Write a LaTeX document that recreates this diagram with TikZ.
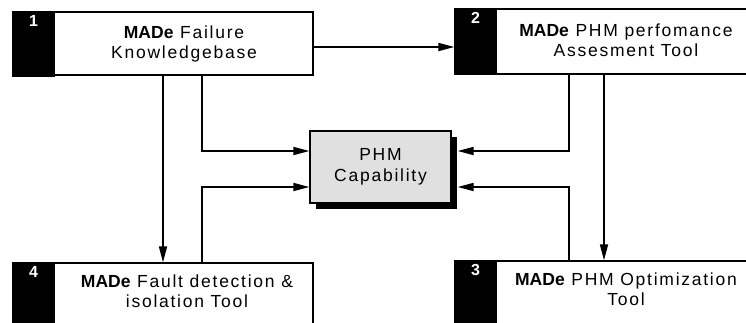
\documentclass[tikz,border=0pt]{standalone}
\usepackage{fontspec}
\setmainfont{Liberation Sans}[LetterSpace=10]
\usetikzlibrary{arrows.meta,shadows}
\newcommand{\brand}{{\addfontfeature{LetterSpace=0}\bfseries MADe}}

\begin{document}
\begin{tikzpicture}[x=1pt,y=-1pt,
  every node/.style={inner sep=0pt},
  toolbox/.style={draw=black,line width=1.3pt,fill=white,rectangle},
  tabbox/.style={draw=black,line width=1.3pt,fill=black,rectangle,anchor=north west,minimum width=41pt},
  toolname/.style={align=center,font=\fontsize{17.5}{20}\selectfont},
  tabnum/.style={text=white,anchor=north,font=\fontsize{16}{16}\selectfont\bfseries},
  phmbox/.style={draw=black,line width=1.3pt,fill=black!12,rectangle,align=center,
    font=\fontsize{17.5}{21}\selectfont,
    drop shadow={shadow xshift=6pt,shadow yshift=-6pt,fill=black,opacity=1}},
  flow/.style={line width=1.7pt,-{Triangle[length=16pt,width=8pt]}}]
\useasboundingbox (0,0) rectangle (746,322);
\clip (0,0) rectangle (746,322);
% tool boxes
\node[toolbox,minimum width=300pt,minimum height=63pt] (kb) at (163,43.5) {};
\node[tabbox,minimum height=64pt] (kbtab) at (kb.north west) {};
\node[tabnum] (kbnum) at ([yshift=-4pt]kbtab.north) {1};
\node[toolname] (kbtext) at (184,44) {\brand{} Failure\\Knowledgebase};
\node[toolbox,minimum width=295pt,minimum height=65pt] (perf) at (602.5,41.5) {};
\node[tabbox,minimum height=65pt] (perftab) at (perf.north west) {};
\node[tabnum] (perfnum) at ([yshift=-4pt]perftab.north) {2};
\node[toolname] (perftext) at (626,40) {\brand{} PHM perfomance\\Assesment Tool};
\node[toolbox,minimum width=295pt,minimum height=65pt] (opt) at (602.5,293.5) {};
\node[tabbox,minimum height=65pt] (opttab) at (opt.north west) {};
\node[tabnum] (optnum) at ([yshift=-4pt]opttab.north) {3};
\node[toolname] (opttext) at (626,289.5) {\brand{} PHM Optimization\\Tool};
\node[toolbox,minimum width=300pt,minimum height=65pt] (fd) at (163,295.5) {};
\node[tabbox,minimum height=65pt] (fdtab) at (fd.north west) {};
\node[tabnum] (fdnum) at ([yshift=-4pt]fdtab.north) {4};
\node[toolname] (fdtext) at (187,291.5) {\brand{} Fault detection \&\\isolation Tool};
% centre
\node[phmbox,minimum width=141pt,minimum height=72pt] (phm) at (380.5,167) {PHM\\Capability};
% connectors
\draw[flow] ([yshift=-3.5pt]kb.east) -- ([yshift=-3.5pt]kb.east -| perftab.west);
\draw[flow] (kb.south) -- (kb.south |- fd.north);
\draw[flow] ([xshift=39pt]kb.south) |- ([yshift=16pt]phm.west);
\draw[flow] ([xshift=39pt]fd.north) |- ([yshift=-20pt]phm.west);
\draw[flow] ([xshift=-33.5pt]perf.south) |- ([xshift=6pt,yshift=16pt]phm.east);
\draw[flow] ([xshift=-33.5pt]opt.north) |- ([xshift=6pt,yshift=-20pt]phm.east);
\draw[flow] ([xshift=1.5pt]perf.south) -- ([xshift=1.5pt]opt.north);
\end{tikzpicture}
\end{document}
